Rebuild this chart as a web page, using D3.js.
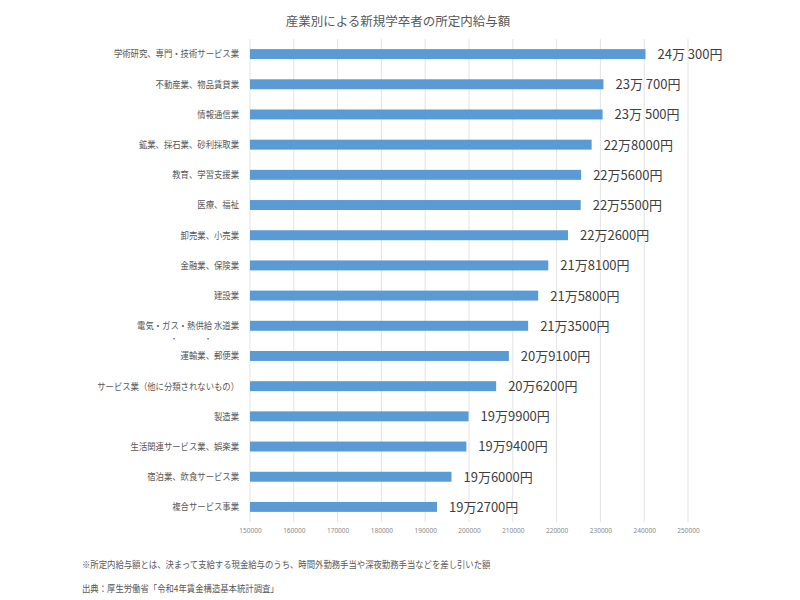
<!DOCTYPE html>
<html>
<head>
<meta charset="utf-8">
<script src="https://cdn.jsdelivr.net/npm/d3@7"></script>
<style>
  body { margin: 0; background: #fff; }
  text { font-family: "Noto Sans CJK JP", "Noto Sans", sans-serif; }
</style>
</head>
<body>
<svg id="chart" width="800" height="600"></svg>
<script>
// data
const industries = [
  "学術研究、専門・技術サービス業", "不動産業、物品賃貸業", "情報通信業",
  "鉱業、採石業、砂利採取業", "教育、学習支援業", "医療、福祉",
  "卸売業、小売業", "金融業、保険業", "建設業",
  "電気・ガス・熱供給 水道業", "運輸業、郵便業", "サービス業（他に分類されないもの）",
  "製造業", "生活関連サービス業、娯楽業", "宿泊業、飲食サービス業", "複合サービス事業"
];
const salaries = [240300, 230700, 230500, 228000, 225600, 225500, 222600, 218100,
  215800, 213500, 209100, 206200, 199900, 199400, 196000, 192700];
const valueLabels = ["24万 300円", "23万 700円", "23万 500円", "22万8000円", "22万5600円",
  "22万5500円", "22万2600円", "21万8100円", "21万5800円", "21万3500円", "20万9100円",
  "20万6200円", "19万9900円", "19万9400円", "19万6000円", "19万2700円"];
const xTicks = [150000, 160000, 170000, 180000, 190000, 200000, 210000, 220000, 230000, 240000, 250000];

const svg = d3.select("#chart");

const x = d3.scaleLinear().domain([150000, 250000]).range([250, 688]);
const y = d3.scaleBand().domain(industries).range([39, 522]).paddingInner(0.67).paddingOuter(0.335);

// title
svg.append("text")
  .attr("x", 398).attr("y", 26)
  .attr("text-anchor", "middle")
  .attr("fill", "#595959")
  .style("font-size", "12.5px")
  .text("産業別による新規学卒者の所定内給与額");

// vertical gridlines
svg.append("g")
  .selectAll("line")
  .data(xTicks)
  .join("line")
  .attr("x1", d => x(d)).attr("x2", d => x(d))
  .attr("y1", 39).attr("y2", 522)
  .attr("stroke", "#e3e3e3")
  .attr("stroke-width", 1);

// x axis labels
const xAxis = svg.append("g")
  .attr("transform", "translate(0,522)")
  .call(d3.axisBottom(x).tickValues(xTicks).tickFormat(d3.format("d")).tickSize(0).tickPadding(6));
xAxis.select(".domain").remove();
xAxis.selectAll("text")
  .attr("fill", "#8a8a8a")
  .style("font-size", "6.5px")
  .style("font-family", "\"Noto Sans\", sans-serif");

// bars
svg.append("g")
  .selectAll("rect")
  .data(salaries)
  .join("rect")
  .attr("x", x(150000))
  .attr("y", (d, i) => y(industries[i]))
  .attr("width", d => x(d) - x(150000))
  .attr("height", y.bandwidth())
  .attr("fill", "#5b9bd5");

// category labels (narrow font look, so squeeze horizontally)
svg.append("g")
  .selectAll("text")
  .data(industries)
  .join("text")
  .attr("transform", d => `translate(239,${y(d) + y.bandwidth() / 2}) scale(0.87,1)`)
  .attr("dy", "0.35em")
  .attr("text-anchor", "end")
  .attr("fill", "#595959")
  .style("font-size", "9.6px")
  .text(d => d);

// stray dots under the wrapped label
svg.append("g")
  .selectAll("text")
  .data([174, 208])
  .join("text")
  .attr("x", d => d)
  .attr("y", y(industries[9]) + y.bandwidth() / 2 + 15)
  .attr("text-anchor", "middle")
  .attr("fill", "#595959")
  .style("font-size", "7px")
  .text("・");

// value labels
svg.append("g")
  .selectAll("text")
  .data(salaries)
  .join("text")
  .attr("x", d => x(d) + 12)
  .attr("y", (d, i) => y(industries[i]) + y.bandwidth() / 2)
  .attr("dy", "0.38em")
  .attr("fill", "#404040")
  .style("font-size", "13px")
  .text((d, i) => valueLabels[i]);

// notes
svg.append("text")
  .attr("transform", "translate(82,568) scale(0.88,1)")
  .attr("fill", "#595959")
  .style("font-size", "9.5px")
  .text("※所定内給与額とは、決まって支給する現金給与のうち、時間外勤務手当や深夜勤務手当などを差し引いた額");
svg.append("text")
  .attr("transform", "translate(82,592) scale(0.88,1)")
  .attr("fill", "#595959")
  .style("font-size", "9.5px")
  .text("出典：厚生労働省「令和4年賃金構造基本統計調査」");
</script>
</body>
</html>
